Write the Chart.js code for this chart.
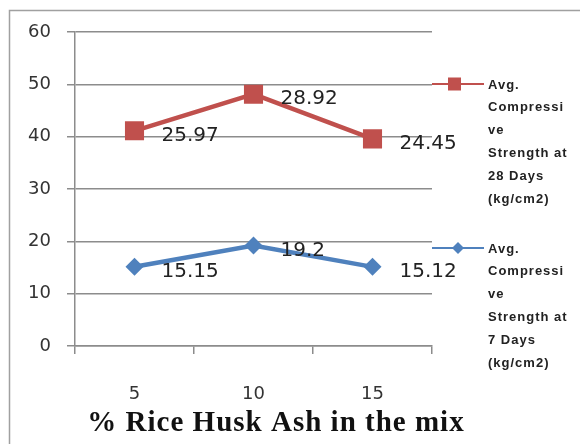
<!DOCTYPE html>
<html>
<head>
<meta charset="utf-8">
<script src="https://cdn.jsdelivr.net/npm/chart.js@4/dist/chart.umd.min.js"></script>
<style>
  html, body { margin: 0; padding: 0; background: #fff; }
  #wrap { width: 580px; height: 444px; position: relative; }
</style>
</head>
<body>
<div id="wrap"><canvas id="chart" width="580" height="444"></canvas></div>
<script>
// rice husk ash percentages on the x axis
const categories = ['5', '10', '15'];
// average compressive strength (kg/cm2), stacked in the original sheet
const strength7Days = [15.15, 19.2, 15.12];
const strength28Days = [25.97, 28.92, 24.45];
const yTicks = [0, 10, 20, 30, 40, 50, 60];
const legend28 = ['Avg.', 'Compressi', 've', 'Strength at', '28 Days', '(kg/cm2)'];
const legend7 = ['Avg.', 'Compressi', 've', 'Strength at', '7 Days', '(kg/cm2)'];
const xTitle = '% Rice Husk Ash in the mix';

const RED = '#C0504D';
const BLUE = '#4F81BD';
const GRID = '#8c8c8c';

// frame round the whole chart, plus the axis title (sits right of centre in the original)
const framePlugin = {
    id: 'frame',
    beforeDraw(chart) {
        const ctx = chart.ctx;
        ctx.save();
        ctx.fillStyle = '#fff';
        ctx.fillRect(0, 0, chart.width, chart.height);
        ctx.strokeStyle = '#a0a0a0';
        ctx.lineWidth = 1.5;
        ctx.strokeRect(9.5, 10.5, chart.width + 10, chart.height + 10);
        ctx.fillStyle = '#111';
        ctx.font = 'bold 29px "Liberation Serif"';
        ctx.letterSpacing = '1px';
        ctx.textAlign = 'center';
        ctx.textBaseline = 'middle';
        ctx.fillText(xTitle, 276, 424);
        ctx.restore();
    }
};

// value labels next to every point
const valueLabels = {
    id: 'valueLabels',
    afterDatasetsDraw(chart) {
        const ctx = chart.ctx;
        ctx.save();
        ctx.font = '20px "DejaVu Sans"';
        ctx.fillStyle = '#222';
        ctx.textAlign = 'left';
        ctx.textBaseline = 'middle';
        chart.data.datasets.forEach((ds, i) => {
            chart.getDatasetMeta(i).data.forEach((pt, j) => {
                ctx.fillText(String(ds.data[j]), pt.x + 27, pt.y + 5);
            });
        });
        ctx.restore();
    }
};

// legend on the right, one entry per series with wrapped text
const sideLegend = {
    id: 'sideLegend',
    afterDraw(chart) {
        const ctx = chart.ctx;
        const entries = [
            { lines: legend28, color: RED, shape: 'square', y: 84 },
            { lines: legend7, color: BLUE, shape: 'diamond', y: 248 }
        ];
        ctx.save();
        entries.forEach(e => {
            ctx.strokeStyle = e.color;
            ctx.lineWidth = 2;
            ctx.beginPath();
            ctx.moveTo(432, e.y);
            ctx.lineTo(484, e.y);
            ctx.stroke();
            ctx.fillStyle = e.color;
            if (e.shape === 'square') {
                ctx.fillRect(448, e.y - 6.5, 13, 13);
            } else {
                ctx.beginPath();
                ctx.moveTo(458, e.y - 6);
                ctx.lineTo(464, e.y);
                ctx.lineTo(458, e.y + 6);
                ctx.lineTo(452, e.y);
                ctx.closePath();
                ctx.fill();
            }
            ctx.fillStyle = '#222';
            ctx.font = 'bold 13px "Liberation Sans"';
            ctx.letterSpacing = '1px';
            ctx.textAlign = 'left';
            ctx.textBaseline = 'middle';
            e.lines.forEach((t, k) => {
                ctx.fillText(t, 488, e.y + 1 + k * 22.8);
            });
        });
        ctx.restore();
    }
};

new Chart(document.getElementById('chart'), {
    type: 'line',
    data: {
        labels: categories,
        datasets: [{
            label: 'Avg. Compressive Strength at 7 Days (kg/cm2)',
            data: strength7Days,
            borderColor: BLUE,
            backgroundColor: BLUE,
            borderWidth: 4.5,
            pointStyle: 'rectRot',
            pointRadius: 9,
            pointHoverRadius: 9,
            pointBorderWidth: 0,
            fill: false,
            tension: 0
        }, {
            label: 'Avg. Compressive Strength at 28 Days (kg/cm2)',
            data: strength28Days,
            borderColor: RED,
            backgroundColor: RED,
            borderWidth: 4.5,
            pointStyle: 'rect',
            pointRadius: 13.5,
            pointHoverRadius: 13.5,
            pointBorderWidth: 0,
            fill: false,
            tension: 0
        }]
    },
    options: {
        responsive: false,
        animation: false,
        events: [],
        layout: { padding: { left: 0, right: 148, top: 32, bottom: 0 } },
        plugins: {
            legend: { display: false },
            tooltip: { enabled: false }
        },
        scales: {
            x: {
                offset: true,
                grid: {
                    offset: true,
                    drawOnChartArea: false,
                    drawTicks: true,
                    tickLength: 8,
                    color: GRID,
                    lineWidth: 1.5
                },
                border: { color: GRID, width: 1.5 },
                ticks: {
                    padding: 30,
                    color: '#333',
                    font: { family: 'DejaVu Sans', size: 18 }
                },
                afterFit(scale) { scale.height = 98; }
            },
            y: {
                stacked: true,
                min: 0,
                max: 60,
                afterBuildTicks(scale) { scale.ticks = yTicks.map(v => ({ value: v })); },
                grid: {
                    color: GRID,
                    lineWidth: 1.5,
                    tickLength: 8
                },
                border: { color: GRID, width: 1.5 },
                ticks: {
                    padding: 16,
                    color: '#333',
                    font: { family: 'DejaVu Sans', size: 18 }
                },
                afterFit(scale) { scale.width = 75; }
            }
        }
    },
    plugins: [framePlugin, valueLabels, sideLegend]
});
</script>
</body>
</html>
